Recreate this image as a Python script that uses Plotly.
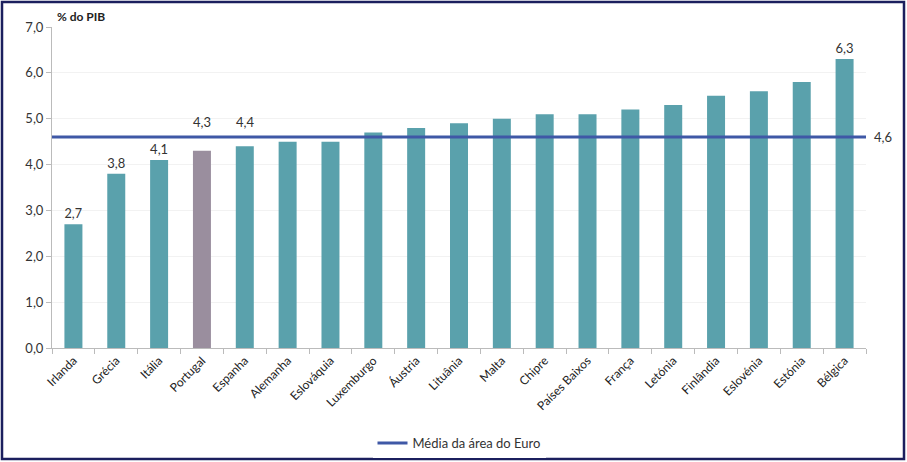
import plotly.graph_objects as go

# data
paises = ['Irlanda', 'Grécia', 'Itália', 'Portugal', 'Espanha', 'Alemanha', 'Eslováquia', 'Luxemburgo',
          'Áustria', 'Lituânia', 'Malta', 'Chipre', 'Países Baixos', 'França', 'Letónia', 'Finlândia',
          'Eslovénia', 'Estónia', 'Bélgica']
valores = [2.7, 3.8, 4.1, 4.3, 4.4, 4.5, 4.5, 4.7, 4.8, 4.9, 5.0, 5.1, 5.1, 5.2, 5.3, 5.5, 5.6, 5.8, 6.3]
rotulados = ['Irlanda', 'Grécia', 'Itália', 'Bélgica']
acima_media = ['Portugal', 'Espanha']  # labels lifted above the average line
media_euro = 4.6


def fmt(v):
    return f'{v:.1f}'.replace('.', ',')


cores = ['#9A8E9E' if p == 'Portugal' else '#5AA1AC' for p in paises]
textos = [fmt(v) if p in rotulados else '' for p, v in zip(paises, valores)]

W, H = 907, 462
ML, MR, MT, MB = 52, 41, 27, 114
pw, ph = W - ML - MR, H - MT - MB

fig = go.Figure()

fig.add_trace(go.Bar(x=paises, y=valores, marker_color=cores, marker_line_width=0,
                     text=textos, textposition='outside', cliponaxis=False,
                     textfont=dict(size=13, color='#333333'), showlegend=False))

# average line across the full plot width
fig.add_trace(go.Scatter(x=[0, 1], y=[media_euro, media_euro], xaxis='x2', mode='lines',
                         line=dict(color='#3F58A6', width=3), name='Média da área do Euro'))

for p, v in zip(paises, valores):
    if p in acima_media:
        fig.add_annotation(x=p, y=media_euro, text=fmt(v), showarrow=False, yanchor='bottom',
                           yshift=5, font=dict(size=13, color='#333333'))

fig.add_annotation(text='<b>% do PIB</b>', xref='paper', yref='paper', x=0.004, y=1.0, yanchor='bottom',
                   xanchor='left', showarrow=False, font=dict(size=12, color='#222222'), yshift=1)
fig.add_annotation(text=fmt(media_euro), xref='paper', yref='y', x=1.0,
                   y=media_euro, xanchor='left', showarrow=False, xshift=6,
                   font=dict(size=13, color='#333333'))

fig.update_layout(
    width=W, height=H,
    margin=dict(l=ML, r=MR, t=MT, b=MB, autoexpand=False),
    paper_bgcolor='white', plot_bgcolor='white',
    font=dict(family='Lato, Open Sans, sans-serif', color='#333333'),
    bargap=0.58,
    xaxis=dict(type='category', tickangle=-45, tickfont=dict(size=12, color='#222222'), showline=True,
               linecolor='#BBBBBB', ticks='outside', tickson='boundaries', ticklen=5,
               tickcolor='#BBBBBB', showgrid=False, automargin=False),
    xaxis2=dict(overlaying='x', range=[0, 1], visible=False),
    yaxis=dict(range=[0, 7], dtick=1, tickformat='.1f',
               showline=True, linecolor='#BBBBBB', ticks='outside', ticklen=5, tickcolor='#BBBBBB',
               gridcolor='#F2F2F2', tickfont=dict(size=13, color='#333333'), zeroline=False,
               automargin=False),
    separators=',.',
    legend=dict(orientation='h', x=0.5, xanchor='center', y=-(428 - (MT + ph)) / ph, yanchor='top',
                font=dict(size=13, color='#333333')),
)

# dark frame around the whole picture
fig.add_shape(type='rect', xref='paper', yref='paper',
              x0=(2 - ML) / pw, x1=(W - 3 - ML) / pw,
              y0=-(H - 3 - MT - ph) / ph, y1=(MT + ph - 2) / ph,
              line=dict(color='#1B1F5E', width=2.5))

fig.write_html('out.html', config={'displayModeBar': False},
               post_script="document.body.style.margin='0';")
